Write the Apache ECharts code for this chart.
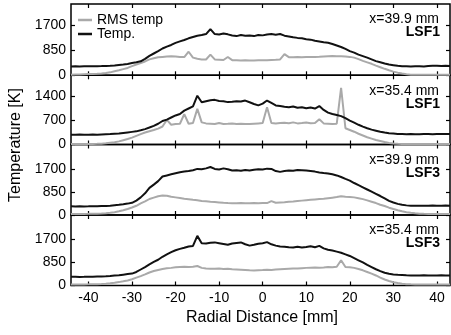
<!DOCTYPE html>
<html>
<head>
<meta charset="utf-8">
<script src="https://cdn.jsdelivr.net/npm/echarts@6/dist/echarts.min.js"></script>
<style>
  html, body { margin: 0; padding: 0; background: #fff; }
  #chart { width: 451px; height: 335px; }
</style>
</head>
<body>
<div id="chart"></div>
<script>
// Radial positions [mm]
const xs = [
  -44, -43, -42, -41, -40, -39, -38, -37, -36, -35, -34,
  -33, -32, -31, -30, -29, -28, -27, -26, -25, -24, -23,
  -22, -21, -20, -19, -18, -17, -16, -15, -14, -13, -12,
  -11, -10, -9, -8, -7, -6, -5, -4, -3, -2, -1,
  0, 1, 2, 3, 4, 5, 6, 7, 8, 9, 10,
  11, 12, 13, 14, 15, 16, 17, 18, 19, 20, 21,
  22, 23, 24, 25, 26, 27, 28, 29, 30, 31, 32,
  33, 34, 35, 36, 37, 38, 39, 40, 41, 42, 43
];

// LSF1, x=39.9 mm
const temp1 = [
  300, 305, 302, 308, 306, 304, 310, 312, 318, 325, 335,
  350, 365, 385, 418, 445, 476, 560, 660, 740, 820, 910,
  975, 1030, 1100, 1150, 1200, 1255, 1300, 1345, 1365, 1400, 1570,
  1400, 1385, 1420, 1390, 1350, 1330, 1365, 1340, 1350, 1330, 1370,
  1355, 1385, 1400, 1380, 1400, 1345, 1320, 1290, 1270, 1255, 1225,
  1210, 1170, 1150, 1120, 1105, 1060, 1010, 960, 895, 820, 770,
  700, 650, 600, 540, 480, 440, 400, 365, 345, 325, 310,
  305, 300, 310, 305, 300, 315, 320, 325, 315, 320, 318
];
const rms1 = [
  20, 25, 30, 35, 40, 45, 50, 60, 75, 100, 136,
  170, 210, 250, 310, 365, 418, 470, 540, 580, 610, 625,
  640, 645, 635, 625, 620, 800, 600, 560, 540, 535, 700,
  540, 530, 520, 620, 515, 510, 505, 510, 500, 505, 510,
  515, 515, 520, 525, 540, 720, 615, 610, 620, 615, 625,
  620, 625, 630, 640, 650, 655, 650, 645, 640, 625, 600,
  550, 490, 440, 390, 330, 275, 220, 170, 125, 90, 60,
  35, 22, 18, 15, 15, 15, 15, 15, 15, 15, 15
];

// LSF1, x=35.4 mm
const temp2 = [
  285, 280, 290, 285, 282, 288, 285, 290, 295, 300, 310,
  320, 335, 350, 365, 380, 410, 445, 490, 540, 600, 680,
  720, 780, 840, 880, 980, 1040, 1100, 1410, 1220, 1250, 1280,
  1290, 1260, 1250, 1225, 1235, 1250, 1240, 1270, 1220, 1170, 1130,
  1180, 1270, 1200, 1130, 1110, 1090, 1075, 1100, 1060, 1075, 1050,
  1070, 1040, 1110, 1000, 920, 880, 850, 820, 760, 690, 630,
  570, 515, 470, 430, 400, 370, 345, 325, 315, 305, 300,
  295, 300, 298, 295, 300, 302, 298, 305, 300, 305, 300
];
const rms2 = [
  15, 15, 15, 18, 15, 18, 20, 25, 35, 50, 65,
  90, 125, 160, 200, 250, 300, 345, 385, 420, 460, 520,
  710, 570, 590, 600, 880, 600, 620, 1030, 640, 610, 600,
  590, 620, 595, 600, 610, 590, 600, 595, 590, 600, 610,
  620, 1075, 620, 610, 620, 630, 615, 640, 610, 620, 635,
  615, 620, 730, 610, 600, 590, 600, 1640, 470, 420, 370,
  310, 260, 210, 170, 130, 100, 70, 45, 30, 20, 15,
  15, 15, 15, 15, 15, 15, 15, 15, 15, 15, 15
];

// LSF3, x=39.9 mm
const temp3 = [
  320, 315, 322, 318, 320, 325, 322, 330, 335, 345, 360,
  375, 395, 420, 450, 530, 650, 800, 1000, 1120, 1250, 1420,
  1460, 1500, 1540, 1580, 1600, 1620, 1650, 1700, 1690, 1720, 1770,
  1700, 1680, 1720, 1690, 1640, 1650, 1630, 1660, 1640, 1670, 1690,
  1680, 1710, 1700, 1620, 1590, 1620, 1640, 1630, 1660, 1650, 1640,
  1620, 1600, 1570, 1545, 1530, 1500, 1460, 1400, 1330, 1270, 1180,
  1100, 1020, 940, 860, 780, 700, 610, 520, 460, 410, 375,
  355, 345, 340, 345, 340, 345, 350, 342, 345, 348, 345
];
const rms3 = [
  35, 35, 38, 40, 42, 45, 50, 58, 68, 82, 100,
  135, 175, 220, 275, 340, 430, 500, 590, 640, 690, 715,
  710, 670, 650, 630, 600, 580, 560, 545, 520, 505, 490,
  480, 465, 450, 440, 435, 430, 440, 435, 430, 440, 435,
  445, 440, 510, 450, 460, 470, 490, 500, 515, 530, 545,
  560, 575, 590, 600, 620, 640, 660, 690, 670, 665, 650,
  620, 585, 540, 490, 440, 380, 330, 270, 220, 175, 135,
  105, 80, 62, 50, 42, 40, 38, 35, 35, 35, 35
];

// LSF3, x=35.4 mm
const temp4 = [
  320, 322, 318, 320, 325, 322, 328, 332, 340, 350, 365,
  380, 400, 420, 440, 500, 590, 680, 780, 870, 950, 1060,
  1150, 1230, 1300, 1350, 1390, 1440, 1460, 1830, 1560, 1550, 1580,
  1590, 1560, 1530, 1500, 1550, 1570, 1590, 1520, 1470, 1500, 1540,
  1560, 1600, 1520, 1470, 1440, 1430, 1410, 1400, 1430, 1400, 1420,
  1450, 1410, 1460, 1370, 1320, 1290, 1250, 1210, 1150, 1090, 1010,
  930, 850, 760, 680, 600, 530, 470, 430, 410, 395, 385,
  375, 370, 372, 368, 375, 370, 372, 368, 374, 370, 372
];
const rms4 = [
  35, 36, 38, 40, 42, 45, 50, 58, 68, 80, 99,
  125, 155, 186, 230, 290, 347, 410, 480, 533, 575, 610,
  632, 650, 670, 682, 690, 680, 690, 720, 650, 630, 620,
  615, 625, 610, 620, 600, 590, 580, 570, 560, 555, 565,
  570, 585, 570, 590, 600, 610, 620, 630, 625, 640, 650,
  657, 660, 655, 665, 680, 670, 690, 930, 680, 670, 650,
  610, 560, 500, 440, 370, 290, 220, 165, 120, 90, 65,
  50, 42, 38, 37, 36, 35, 35, 35, 35, 35, 35
];

const xTicks = [-40, -30, -20, -10, 0, 10, 20, 30, 40];
const yTicksA = [0, 850, 1700];
const yTicksB = [0, 700, 1400];
const positions = ['x=39.9 mm', 'x=35.4 mm', 'x=39.9 mm', 'x=35.4 mm'];
const configs = ['LSF1', 'LSF1', 'LSF3', 'LSF3'];

const FONT = '"Liberation Sans", Arial, Helvetica, sans-serif';
const panels = [
  { top: 4,     height: 71.3, max: 2420, ticks: yTicksA, temp: temp1, rms: rms1 },
  { top: 75.3,  height: 69.2, max: 2000, ticks: yTicksB, temp: temp2, rms: rms2 },
  { top: 144.5, height: 70.5, max: 2600, ticks: yTicksA, temp: temp3, rms: rms3 },
  { top: 215,   height: 70.5, max: 2600, ticks: yTicksA, temp: temp4, rms: rms4 }
];

const pairs = (vals) => xs.map((x, i) => [x, vals[i]]);
const plain = (v) => String(v);

const grid = [], xAxis = [], yAxis = [], series = [], graphic = [];
panels.forEach((p, i) => {
  grid.push({ left: 71, width: 379, top: p.top, height: p.height, show: true,
              borderColor: '#000', borderWidth: 1.5, backgroundColor: 'transparent' });
  const tickStyle = { show: true, inside: true, length: 4, lineStyle: { color: '#000', width: 1.2 } };
  ['bottom', 'top'].forEach((pos) => {
    xAxis.push({
      gridIndex: i, type: 'value', min: -44, max: 43, position: pos,
      axisLine: { show: false, onZero: false }, splitLine: { show: false },
      axisTick: Object.assign({ customValues: xTicks }, tickStyle),
      axisLabel: { show: pos === 'bottom' && i === 3, customValues: xTicks, fontSize: 14,
                   color: '#000', margin: 6, fontFamily: FONT, formatter: plain }
    });
  });
  ['left', 'right'].forEach((pos) => {
    yAxis.push({
      gridIndex: i, type: 'value', min: 0, max: p.max, position: pos,
      axisLine: { show: false, onZero: false }, splitLine: { show: false },
      axisTick: Object.assign({ customValues: p.ticks }, tickStyle),
      axisLabel: { show: pos === 'left', customValues: p.ticks, fontSize: 14,
                   color: '#000', margin: 5, fontFamily: FONT, formatter: plain }
    });
  });
  series.push({
    name: 'RMS temp', type: 'line', xAxisIndex: 2 * i, yAxisIndex: 2 * i,
    data: pairs(p.rms), symbol: 'none', animation: false,
    lineStyle: { color: '#a9a9a9', width: 2 }, itemStyle: { color: '#a9a9a9' }
  });
  series.push({
    name: 'Temp.', type: 'line', xAxisIndex: 2 * i, yAxisIndex: 2 * i,
    data: pairs(p.temp), symbol: 'none', animation: false,
    lineStyle: { color: '#111', width: 2 }, itemStyle: { color: '#111' }
  });
  graphic.push({ type: 'text', x: 439, y: p.top + 15.5,
    style: { text: positions[i], font: '14px ' + FONT, fill: '#000',
             textAlign: 'right', textVerticalAlign: 'middle' } });
  graphic.push({ type: 'text', x: 440, y: p.top + 28.5,
    style: { text: configs[i], font: 'bold 14px ' + FONT, fill: '#000',
             textAlign: 'right', textVerticalAlign: 'middle' } });
});

graphic.push({ type: 'text', x: 16, y: 145, rotation: Math.PI / 2,
  style: { text: 'Temperature [K]', font: '16px ' + FONT, fill: '#000',
           textAlign: 'center', textVerticalAlign: 'middle' } });
graphic.push({ type: 'text', x: 262, y: 318,
  style: { text: 'Radial Distance [mm]', font: '16px ' + FONT, fill: '#000',
           textAlign: 'center', textVerticalAlign: 'middle' } });

const chart = echarts.init(document.getElementById('chart'), null, { renderer: 'canvas' });
chart.setOption({
  animation: false,
  backgroundColor: '#fff',
  grid, xAxis, yAxis, series, graphic,
  legend: {
    data: ['RMS temp', 'Temp.'], orient: 'vertical', left: 78, top: 13,
    icon: 'rect', itemWidth: 14, itemHeight: 2.5, itemGap: 0, padding: 0,
    textStyle: { fontSize: 14, color: '#000', fontFamily: FONT, lineHeight: 13 }
  }
});
</script>
</body>
</html>
